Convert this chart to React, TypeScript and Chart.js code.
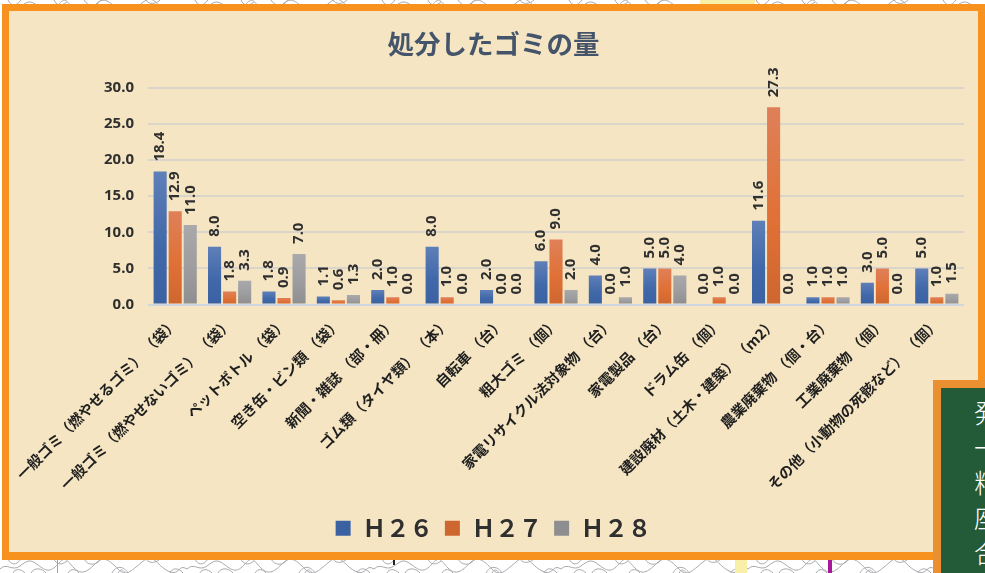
import React, { useEffect, useRef } from "react";
import { Chart, registerables } from "chart.js";

Chart.register(...registerables);

const categories = [
  "一般ゴミ（燃やせるゴミ） （袋）",
  "一般ゴミ（燃やせないゴミ） （袋）",
  "ペットボトル （袋）",
  "空き缶・ビン類 （袋）",
  "新聞・雑誌 （部・冊）",
  "ゴム類（タイヤ類） （本）",
  "自転車 （台）",
  "粗大ゴミ （個）",
  "家電リサイクル法対象物 （台）",
  "家電製品 （台）",
  "ドラム缶 （個）",
  "建設廃材（土木・建築） （m2）",
  "農業廃棄物 （個・台）",
  "工業廃棄物 （個）",
  "その他（小動物の死骸など） （個）",
];
const h26 = [18.4, 8.0, 1.8, 1.1, 2.0, 8.0, 2.0, 6.0, 4.0, 5.0, 0.0, 11.6, 1.0, 3.0, 5.0];
const h27 = [12.9, 1.8, 0.9, 0.6, 1.0, 1.0, 0.0, 9.0, 0.0, 5.0, 1.0, 27.3, 1.0, 5.0, 1.0];
const h28 = [11.0, 3.3, 7.0, 1.3, 0.0, 0.0, 0.0, 2.0, 1.0, 4.0, 0.0, 0.0, 1.0, 0.0, 1.5];
const seriesNames = ["Ｈ２６", "Ｈ２７", "Ｈ２８"];
const panelLines = ["発", "一", "粕", "座", "合"];

const CJK = "'Noto Sans CJK JP', 'Noto Sans', sans-serif";
const LATIN = "'Noto Sans', sans-serif";
const INK = "#2f2f2f";

const gradientFill = (solid: string, top: string, mid: string, bottom: string) => (ctx: any) => {
  if (ctx.raw === undefined) return solid;
  const scale = ctx.chart.scales.y;
  if (!scale) return solid;
  const y0 = scale.getPixelForValue(ctx.raw);
  const y1 = scale.getPixelForValue(0);
  if (!(y1 > y0)) return solid;
  const g = ctx.chart.ctx.createLinearGradient(0, y0, 0, y1);
  g.addColorStop(0, top);
  g.addColorStop(0.55, mid);
  g.addColorStop(1, bottom);
  return g;
};

const valueLabels = {
  id: "valueLabels",
  afterDatasetsDraw(chart: any) {
    const c = chart.ctx;
    c.save();
    c.font = `bold 15px ${LATIN}`;
    c.fillStyle = INK;
    c.textAlign = "left";
    c.textBaseline = "middle";
    chart.data.datasets.forEach((ds: any, i: number) => {
      chart.getDatasetMeta(i).data.forEach((bar: any, j: number) => {
        c.save();
        c.translate(bar.x, bar.y - 10);
        c.rotate(-Math.PI / 2);
        c.fillText(ds.data[j].toFixed(1), 0, 0);
        c.restore();
      });
    });
    c.restore();
  },
};

function MapStrip({ style }: { style: React.CSSProperties }) {
  const id = "contour" + String(style.top);
  return (
    <svg width="985" height={style.height as number} style={{ position: "absolute", left: 0, ...style }}>
      <defs>
        <pattern id={id} width="187" height="14" patternUnits="userSpaceOnUse">
          <path
            d="M0 10C7 3 12 13 20 7S30 0 38 6 50 14 58 5 66 1 74 9 88 12 96 4 110 2 118 10 130 13 142 3 156 6 168 12 178 4 187 10M8 0C11 6 16 7 21 0M31 14C34 8 42 9 46 14M54 0C56 5 61 7 67 2M13 14C15 10 20 9 25 14M84 0C88 7 96 7 101 0M112 14C116 6 124 7 128 14M118 14C120 10 123 10 125 14M146 0C149 5 156 4 160 0M170 14C172 9 178 8 183 14M68 14C71 9 76 10 79 14"
            fill="none"
            stroke="#a9a9ad"
            strokeWidth="1"
          />
        </pattern>
      </defs>
      <rect width="985" height={style.height as number} fill={`url(#${id})`} />
    </svg>
  );
}

export default function App() {
  const ref = useRef<HTMLCanvasElement>(null);

  useEffect(() => {
    const chart = new Chart(ref.current as HTMLCanvasElement, {
      type: "bar",
      plugins: [valueLabels],
      data: {
        labels: categories,
        datasets: [
          {
            label: seriesNames[0],
            data: h26,
            backgroundColor: gradientFill("#4169A8", "#5F7FB8", "#4169A9", "#3A62A3"),
          },
          {
            label: seriesNames[1],
            data: h27,
            backgroundColor: gradientFill("#E07038", "#DF8059", "#E07137", "#CE662F"),
          },
          {
            label: seriesNames[2],
            data: h28,
            backgroundColor: gradientFill("#9C9C9E", "#A9A9AB", "#9D9D9F", "#8E8E90"),
          },
        ],
      },
      options: {
        animation: false,
        responsive: false,
        layout: { padding: { left: 14, right: 14, top: 0, bottom: 2 } },
        datasets: { bar: { barPercentage: 0.87, categoryPercentage: 0.83 } },
        plugins: {
          tooltip: { enabled: false },
          title: {
            display: true,
            text: "処分したゴミの量",
            color: "#44546A",
            font: { family: CJK, size: 26.5, weight: "bold" },
            padding: { top: 17, bottom: 28 },
          },
          legend: {
            position: "bottom",
            labels: {
              boxWidth: 15,
              boxHeight: 15,
              color: INK,
              padding: 12,
              font: { family: CJK, size: 23.5, weight: "bold" },
            },
          },
        },
        scales: {
          x: {
            grid: { display: false },
            border: { display: false },
            afterFit: (s: any) => {
              s.height = 200;
            },
            ticks: {
              autoSkip: false,
              minRotation: 45,
              maxRotation: 45,
              color: "#1f1f1f",
              padding: 2,
              font: { family: CJK, size: 14.5, weight: "bold" },
            },
          },
          y: {
            min: 0,
            max: 30,
            border: { display: false },
            afterFit: (s: any) => {
              s.width = 125;
            },
            grid: {
              drawTicks: false,
              lineWidth: 2,
              color: (ctx: any) => (ctx.tick && ctx.tick.value === 0 ? "#CFD6E2" : "#DAD5CB"),
            },
            ticks: {
              stepSize: 5,
              padding: 14,
              color: INK,
              font: { family: LATIN, size: 15, weight: "bold" },
              callback: (v: any) => Number(v).toFixed(1),
            },
          },
        },
      },
    } as any);
    return () => chart.destroy();
  }, []);

  return (
    <div style={{ position: "fixed", left: 0, top: 0, width: 985, height: 573, overflow: "hidden", background: "#fff" }}>
      <MapStrip style={{ top: 0, height: 5 }} />
      <MapStrip style={{ top: 559, height: 14 }} />
      <div style={{ position: "absolute", left: 735, top: 560, width: 12, height: 13, background: "#F8F0A8" }} />
      <div style={{ position: "absolute", left: 700, top: 0, width: 55, height: 5, background: "#F8F0A8" }} />
      <div style={{ position: "absolute", left: 828, top: 560, width: 4, height: 13, background: "#A8189A" }} />
      <div style={{ position: "absolute", left: 57, top: 560, width: 1, height: 13, background: "#5BB7E5" }} />
      <div style={{ position: "absolute", left: 393, top: 560, width: 2, height: 5, background: "#222" }} />
      <div
        style={{
          position: "absolute",
          left: 2,
          top: 4,
          width: 990,
          height: 556,
          boxSizing: "border-box",
          background: "#F5E5C3",
          border: "7px solid #F8921E",
          borderBottomWidth: 8,
        }}
      />
      <div style={{ position: "absolute", left: 978, top: 4, width: 7, height: 400, background: "#F8921E" }} />
      <canvas ref={ref} width={969} height={541} style={{ position: "absolute", left: 9, top: 11, display: "block" }} />
      <div
        style={{
          position: "absolute",
          left: 933,
          top: 380,
          width: 60,
          height: 200,
          boxSizing: "border-box",
          background: "#235A37",
          borderLeft: "8px solid #EB9030",
          borderTop: "8px solid #EB9030",
          color: "#fff",
          fontFamily: CJK,
          fontSize: 26,
          fontWeight: 300,
          lineHeight: "35px",
          paddingLeft: 33,
          paddingTop: 6,
          whiteSpace: "nowrap",
        }}
      >
        {panelLines.map((t) => (
          <div key={t}>{t}</div>
        ))}
      </div>
    </div>
  );
}
